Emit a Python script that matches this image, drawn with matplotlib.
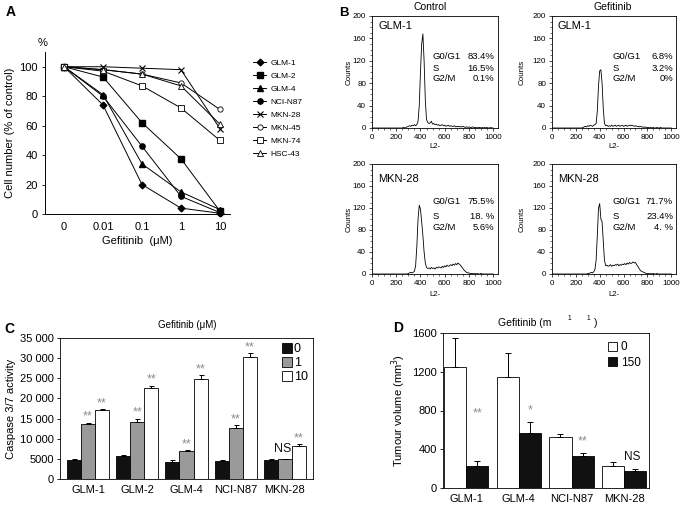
import matplotlib
matplotlib.use("Agg")
import matplotlib.pyplot as plt
from matplotlib.ticker import MultipleLocator, FixedLocator
import numpy as np

plt.rcParams['font.family'] = ['Liberation Sans', 'DejaVu Sans']

W, H = 685, 507
fig = plt.figure(figsize=(W / 100, H / 100), dpi=100)


def ax_px(l, t, r, b):
    return fig.add_axes([l / W, 1 - b / H, (r - l) / W, (b - t) / H])


def ftext(x, y, s, **kw):
    return fig.text(x / W, 1 - y / H, s, **kw)

# ---------------- DATA ----------------
# Panel A
doses = ["0", "0.01", "0.1", "1", "10"]
lines_A = {
    "GLM-1":   [100, 74, 20, 4, 0.5],
    "GLM-2":   [100, 93, 62, 37.5, 2],
    "GLM-4":   [100, 81, 34, 15, 3],
    "NCI-N87": [100, 80, 46, 12, 1],
    "MKN-28":  [100, 100, 99, 98, 58],
    "MKN-45":  [100, 98, 95, 89, 71],
    "MKN-74":  [100, 97, 87, 72, 50],
    "HSC-43":  [100, 98, 95, 87, 61],
}

# Panel B: flow-cytometry histograms (channel, counts)
channel = list(range(0, 1010, 10))
hist_glm1_ctrl = [0]*26 + [1, 0, 1, 2, 3, 4, 3, 5, 4, 6, 4, 6, 12, 40, 100, 150, 168, 120, 50, 15,
                           10, 8, 9, 12, 7, 8, 6, 7, 5, 6, 4, 5, 6, 4, 5, 3, 4, 5, 3, 4,
                           3, 3, 4, 2, 3, 2, 3, 2, 2, 3, 2, 1, 2, 1, 2, 1, 1, 2, 1, 1,
                           1, 0, 1, 1, 0, 1, 0, 1, 0, 1, 0, 0, 1, 0, 0]
hist_glm1_gef = [0]*26 + [1, 2, 3, 2, 4, 3, 5, 4, 3, 5, 6, 8, 30, 75, 102, 104, 80, 35, 8, 4,
                          5, 3, 4, 3, 5, 3, 4, 5, 3, 4, 5, 3, 4, 5, 3, 4, 5, 3, 4, 5,
                          4, 5, 4, 3, 4, 3, 3, 2, 3, 2, 2, 1, 2, 1, 1, 1, 0, 1, 0, 1,
                          0, 0, 1, 0, 0, 1, 0, 0, 0, 0, 0, 0, 0, 0, 0]
hist_mkn28_ctrl = [0]*30 + [1, 2, 3, 2, 3, 5, 15, 50, 100, 125, 118, 95, 70, 40, 20, 12,
                            10, 11, 9, 12, 10, 11, 9, 12, 11, 13, 12, 11, 14, 12, 15, 13, 16, 14, 15, 17,
                            15, 18, 16, 19, 17, 20, 18, 16, 13, 10, 7, 5, 3, 2, 2, 1, 1, 1, 0, 1,
                            0, 1, 0, 0, 1, 0, 0, 0, 0, 0, 0, 0, 0, 0, 0]
hist_mkn28_gef = [0]*30 + [1, 1, 2, 3, 2, 4, 8, 25, 70, 120, 128, 100, 95, 60, 25, 15,
                           16, 14, 15, 17, 14, 16, 15, 17, 16, 18, 15, 17, 16, 18, 17, 19, 17, 20, 18, 21,
                           19, 20, 22, 20, 21, 17, 14, 10, 7, 5, 4, 3, 2, 1, 1, 1, 0, 1, 0, 1,
                           0, 0, 1, 0, 0, 0, 0, 0, 0, 0, 0, 0, 0, 0, 0]
phase_labels = ["G0/G1", "S", "G2/M"]
phases = {
    "glm1_ctrl": ["83.4%", "16.5%", "0.1%"],
    "glm1_gef": ["6.8%", "3.2%", "0%"],
    "mkn28_ctrl": ["75.5%", "18. %", "5.6%"],
    "mkn28_gef": ["71.7%", "23.4%", "4. %"],
}

# Panel C
cells_C = ["GLM-1", "GLM-2", "GLM-4", "NCI-N87", "MKN-28"]
casp_0 = [4800, 5800, 4300, 4500, 4800]
casp_1 = [13700, 14100, 7000, 12700, 4900]
casp_10 = [17100, 22600, 24900, 30300, 8300]
casp_0_err = [100, 200, 400, 200, 100]
casp_1_err = [300, 800, 100, 700, 100]
casp_10_err = [200, 600, 800, 900, 300]
sig_1 = ["**", "**", "**", "**", "NS"]
sig_10 = ["**", "**", "**", "**", "**"]
conc_C = ["0", "1", "10"]

# Panel D
cells_D = ["GLM-1", "GLM-4", "NCI-N87", "MKN-28"]
tum_0 = [1250, 1150, 530, 225]
tum_150 = [230, 565, 330, 175]
tum_0_err = [300, 245, 30, 40]
tum_150_err = [45, 115, 30, 20]
sig_D = ["**", "*", "**", "NS"]
dose_D = ["0", "150"]

FS = 8
STAR = '#8c8c8c'

# ---------------- Panel A ----------------
axA = ax_px(45, 52, 230, 214)
styles = {
    "GLM-1": dict(marker='D', mfc='black', ms=3.4),
    "GLM-2": dict(marker='s', mfc='black', ms=3.8),
    "GLM-4": dict(marker='^', mfc='black', ms=4.3),
    "NCI-N87": dict(marker='o', mfc='black', ms=3.8),
    "MKN-28": dict(marker='x', mfc='black', ms=4.8, mew=0.8),
    "MKN-45": dict(marker='o', mfc='white', ms=3.8, mew=0.6),
    "MKN-74": dict(marker='s', mfc='white', ms=3.8, mew=0.6),
    "HSC-43": dict(marker='^', mfc='white', ms=4.3, mew=0.6),
}
xA = np.arange(len(doses))
handles = []
for name, vals in lines_A.items():
    h, = axA.plot(xA, vals, color='black', lw=0.7, mec='black', **styles[name], label=name, clip_on=False)
    handles.append(h)
axA.set_xlim(-0.49, 4.26)
axA.set_ylim(0, 110)
axA.set_yticks([0, 20, 40, 60, 80, 100])
axA.set_xticks(xA)
axA.set_xticklabels(doses)
axA.tick_params(axis='x', length=0, pad=6, labelsize=FS)
axA.tick_params(axis='y', length=2, width=0.6, pad=3, labelsize=FS)
for s in ['top', 'right']:
    axA.spines[s].set_visible(False)
for s in ['left', 'bottom']:
    axA.spines[s].set_linewidth(0.7)
axA.set_ylabel("Cell number (% of control)", fontsize=FS, labelpad=3)
axA.set_xlabel("Gefitinib  (μM)", fontsize=FS, labelpad=3)
ftext(43, 43, "%", fontsize=FS, ha='center', va='center')
leg = fig.legend(handles=handles, loc='upper left', bbox_to_anchor=(253 / W, 1 - 59 / H),
                 frameon=False, fontsize=6, handlelength=1.6, handletextpad=0.5,
                 labelspacing=0.62, borderaxespad=0, borderpad=0)
ftext(6, 12, "A", fontsize=10, fontweight='bold', ha='left', va='center')

# ---------------- Panel B ----------------
def hist_ax(l, t, r, b, counts, name, vals, name_y, rows_y, lab_x, val_x):
    ax = ax_px(l, t, r, b)
    ax.plot(channel, counts, color='black', lw=0.6)
    ax.set_xlim(0, 1040)
    ax.set_ylim(0, 200)
    ax.xaxis.set_major_locator(FixedLocator([0, 200, 400, 600, 800, 1000]))
    ax.xaxis.set_minor_locator(MultipleLocator(50))
    ax.yaxis.set_major_locator(MultipleLocator(40))
    ax.yaxis.set_minor_locator(MultipleLocator(10))
    ax.tick_params(which='major', length=2.2, width=0.5, labelsize=5.8, pad=2)
    ax.tick_params(which='minor', length=1.1, width=0.4)
    for s in ax.spines.values():
        s.set_linewidth(0.6)
    ax.text(50, name_y, name, fontsize=8, ha='left', va='center')
    for lab, v, yy in zip(phase_labels, vals, rows_y):
        ax.text(lab_x, yy, lab, fontsize=6.8, ha='left', va='center')
        ax.text(val_x, yy, v, fontsize=6.8, ha='right', va='center')
    return ax

rows_top = [127, 106, 88]
rows_bot = [131, 104, 84]
hist_ax(372, 16, 498, 128, hist_glm1_ctrl, "GLM-1", phases["glm1_ctrl"], 183, rows_top, 496, 1008)
hist_ax(552, 16, 676, 128, hist_glm1_gef, "GLM-1", phases["glm1_gef"], 183, rows_top, 505, 1015)
hist_ax(372, 164, 498, 274, hist_mkn28_ctrl, "MKN-28", phases["mkn28_ctrl"], 173, rows_bot, 496, 1008)
hist_ax(552, 164, 676, 274, hist_mkn28_gef, "MKN-28", phases["mkn28_gef"], 173, rows_bot, 505, 1015)
for x0 in (349, 522):
    ftext(x0, 72, "Counts", fontsize=5.8, rotation=90, ha='center', va='center')
    ftext(x0, 219, "Counts", fontsize=5.8, rotation=90, ha='center', va='center')
for xc in (435, 614):
    ftext(xc, 147, "L2-", fontsize=5.5, ha='center', va='center')
    ftext(xc, 294, "L2-", fontsize=5.5, ha='center', va='center')
ftext(430, 7, "Control", fontsize=7.5, ha='center', va='center')
ftext(613, 7, "Gefitinib", fontsize=7.5, ha='center', va='center')
ftext(339, 13, "B", fontsize=9.5, fontweight='bold', ha='left', va='center')

# ---------------- Panel C ----------------
axC = ax_px(60, 338, 313, 479)
xC = np.arange(len(cells_C))
bw = 0.285
colsC = ['#111111', '#9a9a9a', 'white']
for k, (vals, errs, col) in enumerate(zip([casp_0, casp_1, casp_10],
                                          [casp_0_err, casp_1_err, casp_10_err], colsC)):
    axC.bar(xC + (k - 1) * bw, vals, bw, color=col, edgecolor='black', linewidth=0.6,
            yerr=[[0] * len(errs), errs],
            error_kw=dict(ecolor='black', elinewidth=0.7, capsize=1.8, capthick=0.7),
            label=conc_C[k])
for k, (vals, errs, sig) in enumerate(zip([casp_1, casp_10], [casp_1_err, casp_10_err], [sig_1, sig_10])):
    for i in range(len(cells_C)):
        top = vals[i] + errs[i]
        if sig[i] == "NS":
            axC.text(xC[i] + k * bw - 0.05, top + 900, "NS", fontsize=9, ha='center', va='bottom', color='#111111')
        else:
            axC.text(xC[i] + k * bw, top + 1500, sig[i], fontsize=9, ha='center', va='center', color=STAR)
axC.set_xlim(-0.57, 4.57)
axC.set_ylim(0, 35000)
axC.set_yticks(range(0, 35001, 5000))
axC.set_yticklabels(["0", "5000", "10 000", "15 000", "20 000", "25 000", "30 000", "35 000"])
axC.set_xticks(xC)
axC.set_xticklabels(cells_C)
axC.tick_params(axis='x', length=0, pad=4, labelsize=FS)
axC.tick_params(axis='y', length=2.5, width=0.6, pad=2, labelsize=FS)
for s in axC.spines.values():
    s.set_linewidth(0.6)
axC.set_ylabel("Caspase 3/7 activity", fontsize=FS, labelpad=3)
axC.legend(loc='upper right', frameon=False, fontsize=9, handlelength=0.8, handleheight=0.8,
           handletextpad=0.2, labelspacing=0.15, borderaxespad=0.2, borderpad=0.2)
ftext(187, 325, "Gefitinib (μM)", fontsize=7, ha='center', va='center')
ftext(4, 329, "C", fontsize=10, fontweight='bold', ha='left', va='center')

# ---------------- Panel D ----------------
axD = ax_px(443, 333, 649, 488)
xD = np.arange(len(cells_D))
bwD = 0.42
axD.bar(xD - bwD / 2, tum_0, bwD, color='white', edgecolor='black', linewidth=0.6,
        yerr=[[0] * 4, tum_0_err], error_kw=dict(ecolor='black', elinewidth=0.7, capsize=2, capthick=0.7),
        label=dose_D[0])
axD.bar(xD + bwD / 2, tum_150, bwD, color='#111111', edgecolor='black', linewidth=0.6,
        yerr=[[0] * 4, tum_150_err], error_kw=dict(ecolor='black', elinewidth=0.7, capsize=2, capthick=0.7),
        label=dose_D[1])
for i in range(len(cells_D)):
    top = tum_150[i] + tum_150_err[i]
    if sig_D[i] == "NS":
        axD.text(xD[i] + bwD / 2 - 0.05, top + 60, "NS", fontsize=8.5, ha='center', va='bottom', color='#111111')
    else:
        axD.text(xD[i] + bwD / 2, top + (430 if i == 0 else 60), sig_D[i], fontsize=9, ha='center',
                 va='bottom', color=STAR)
axD.set_xlim(-0.44, 3.47)
axD.set_ylim(0, 1600)
axD.set_yticks([0, 400, 800, 1200, 1600])
axD.set_xticks(xD)
axD.set_xticklabels(cells_D)
axD.tick_params(axis='x', length=0, pad=4, labelsize=FS)
axD.tick_params(axis='y', length=2.5, width=0.6, pad=2, labelsize=FS)
for s in axD.spines.values():
    s.set_linewidth(0.6)
axD.set_ylabel("Tumour volume (mm$^3$)", fontsize=FS, labelpad=3)
axD.legend(loc='upper right', frameon=False, fontsize=8.5, handlelength=0.8, handleheight=0.8,
           handletextpad=0.3, labelspacing=0.3, borderaxespad=0.5, borderpad=0.2)
ftext(498, 323, "Gefitinib (m", fontsize=7.5, ha='left', va='center')
ftext(569, 319, "1", fontsize=4.8, ha='center', va='center')
ftext(588, 319, "1", fontsize=4.8, ha='center', va='center')
ftext(594, 323, ")", fontsize=7.5, ha='left', va='center')
ftext(393, 328, "D", fontsize=10, fontweight='bold', ha='left', va='center')

fig.savefig("out.png", dpi=100)
